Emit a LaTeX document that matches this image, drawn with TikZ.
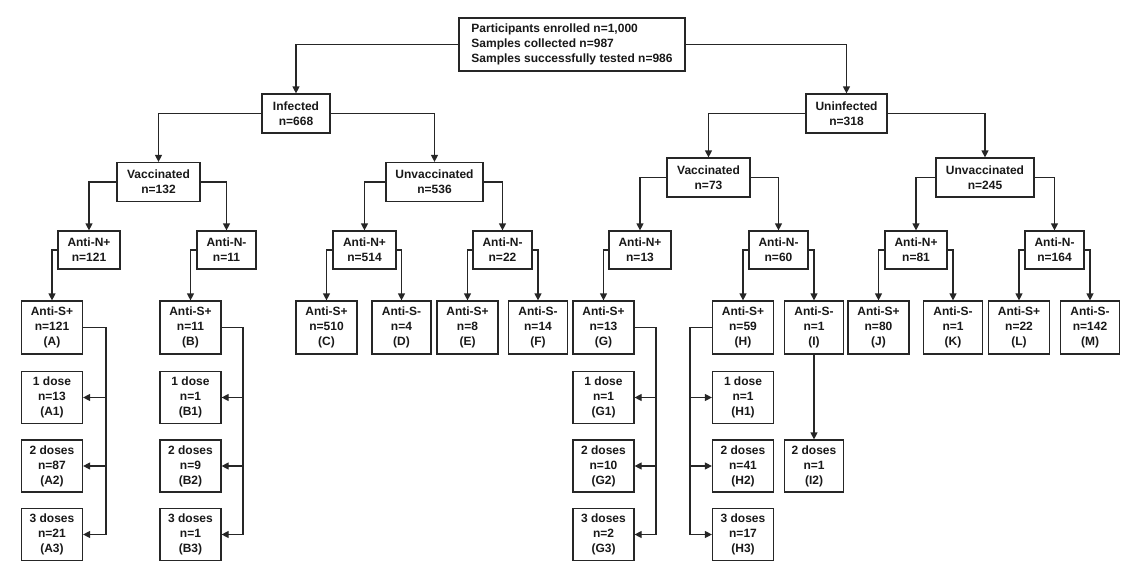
\documentclass[tikz,border=0pt]{standalone}
\usepackage{fontspec}
\setmainfont{Liberation Sans}
\usetikzlibrary{arrows.meta}
\begin{document}
\begin{tikzpicture}[x=1pt,y=-1pt,
  box/.style={draw=black!85, line width=1.2pt, fill=white, text=black!90, font=\bfseries\fontsize{12}{15}\selectfont, align=center, inner sep=0pt},
  two/.style={box, minimum height=39pt},
  nrow/.style={box, minimum height=38pt},
  srow/.style={box, minimum height=53pt},
  drow/.style={box, minimum height=52pt, minimum width=61pt},
  conn/.style={draw=black!85, line width=1.2pt},
  arr/.style={conn, -{Triangle[length=7pt,width=7pt]}}]
\useasboundingbox (0,0) rectangle (1130,576);

% level 0
\node[box, minimum width=226pt, minimum height=53pt, align=left] (root) at (572,44.5)
  {Participants enrolled n=1,000\\Samples collected n=987\\Samples successfully tested n=986};

% level 1
\node[two, minimum width=68pt] (inf) at (296,113.5) {Infected\\n=668};
\node[two, minimum width=81pt] (uninf) at (846.5,113.5) {Uninfected\\n=318};

% level 2
\node[two, minimum width=83pt] (v1) at (158.5,182) {Vaccinated\\n=132};
\node[two, minimum width=97pt] (u1) at (434.5,182) {Unvaccinated\\n=536};
\node[two, minimum width=83pt] (v2) at (708.5,177.5) {Vaccinated\\n=73};
\node[two, minimum width=98pt] (u2) at (985,177.5) {Unvaccinated\\n=245};

% level 3
\node[nrow, minimum width=62pt] (n1) at (89,250) {Anti-N+\\n=121};
\node[nrow, minimum width=59pt] (n2) at (226.5,250) {Anti-N-\\n=11};
\node[nrow, minimum width=63pt] (n3) at (364.5,250) {Anti-N+\\n=514};
\node[nrow, minimum width=59pt] (n4) at (502.5,250) {Anti-N-\\n=22};
\node[nrow, minimum width=62pt] (n5) at (640,250) {Anti-N+\\n=13};
\node[nrow, minimum width=59pt] (n6) at (778.5,250) {Anti-N-\\n=60};
\node[nrow, minimum width=62pt] (n7) at (916,250) {Anti-N+\\n=81};
\node[nrow, minimum width=59pt] (n8) at (1054.5,250) {Anti-N-\\n=164};

% level 4
\node[srow, minimum width=61pt] (A) at (52,327.5) {Anti-S+\\n=121\\(A)};
\node[srow, minimum width=61pt] (B) at (190.5,327.5) {Anti-S+\\n=11\\(B)};
\node[srow, minimum width=61pt] (C) at (326.5,327.5) {Anti-S+\\n=510\\(C)};
\node[srow, minimum width=59pt] (D) at (401.5,327.5) {Anti-S-\\n=4\\(D)};
\node[srow, minimum width=61pt] (E) at (467.5,327.5) {Anti-S+\\n=8\\(E)};
\node[srow, minimum width=59pt] (F) at (538,327.5) {Anti-S-\\n=14\\(F)};
\node[srow, minimum width=61pt] (G) at (603.5,327.5) {Anti-S+\\n=13\\(G)};
\node[srow, minimum width=61pt] (H) at (743,327.5) {Anti-S+\\n=59\\(H)};
\node[srow, minimum width=59pt] (I) at (814,327.5) {Anti-S-\\n=1\\(I)};
\node[srow, minimum width=61pt] (J) at (878.5,327.5) {Anti-S+\\n=80\\(J)};
\node[srow, minimum width=59pt] (K) at (953,327.5) {Anti-S-\\n=1\\(K)};
\node[srow, minimum width=61pt] (L) at (1019,327.5) {Anti-S+\\n=22\\(L)};
\node[srow, minimum width=59pt] (M) at (1090,327.5) {Anti-S-\\n=142\\(M)};

% level 5 (doses)
\node[drow] (A1) at (52,397.5) {1 dose\\n=13\\(A1)};
\node[drow] (A2) at (52,466) {2 doses\\n=87\\(A2)};
\node[drow] (A3) at (52,534.5) {3 doses\\n=21\\(A3)};
\node[drow] (B1) at (190.5,397.5) {1 dose\\n=1\\(B1)};
\node[drow] (B2) at (190.5,466) {2 doses\\n=9\\(B2)};
\node[drow] (B3) at (190.5,534.5) {3 doses\\n=1\\(B3)};
\node[drow] (G1) at (603.5,397.5) {1 dose\\n=1\\(G1)};
\node[drow] (G2) at (603.5,466) {2 doses\\n=10\\(G2)};
\node[drow] (G3) at (603.5,534.5) {3 doses\\n=2\\(G3)};
\node[drow] (H1) at (743,397.5) {1 dose\\n=1\\(H1)};
\node[drow] (H2) at (743,466) {2 doses\\n=41\\(H2)};
\node[drow] (H3) at (743,534.5) {3 doses\\n=17\\(H3)};
\node[drow, minimum width=59pt] (I2) at (814,466) {2 doses\\n=1\\(I2)};

% bus coordinates
\coordinate (bA) at (106,0);
\coordinate (bB) at (243,0);
\coordinate (bG) at (656,0);
\coordinate (bH) at (690,0);

% connectors
\draw[arr] (root.west) -| (inf.north);
\draw[arr] (root.east) -| (uninf.north);
\draw[arr] (inf.west) -| (v1.north);
\draw[arr] (inf.east) -| (u1.north);
\draw[arr] (uninf.west) -| (v2.north);
\draw[arr] (uninf.east) -| (u2.north);
\draw[arr] (v1.west) -| (n1.north);
\draw[arr] (v1.east) -| (n2.north);
\draw[arr] (u1.west) -| (n3.north);
\draw[arr] (u1.east) -| (n4.north);
\draw[arr] (v2.west) -| (n5.north);
\draw[arr] (v2.east) -| (n6.north);
\draw[arr] (u2.west) -| (n7.north);
\draw[arr] (u2.east) -| (n8.north);
\draw[arr] (n1.west) -| (A.north);
\draw[arr] (n2.west) -| (B.north);
\draw[arr] (n3.west) -| (C.north);
\draw[arr] (n3.east) -| (D.north);
\draw[arr] (n4.west) -| (E.north);
\draw[arr] (n4.east) -| (F.north);
\draw[arr] (n5.west) -| (G.north);
\draw[arr] (n6.west) -| (H.north);
\draw[arr] (n6.east) -| (I.north);
\draw[arr] (n7.west) -| (J.north);
\draw[arr] (n7.east) -| (K.north);
\draw[arr] (n8.west) -| (L.north);
\draw[arr] (n8.east) -| (M.north);

\draw[arr] (A.east) -| (bA |- A3.east) -- (A3.east);
\draw[arr] (bA |- A1.east) -- (A1.east);
\draw[arr] (bA |- A2.east) -- (A2.east);
\draw[arr] (B.east) -| (bB |- B3.east) -- (B3.east);
\draw[arr] (bB |- B1.east) -- (B1.east);
\draw[arr] (bB |- B2.east) -- (B2.east);
\draw[arr] (G.east) -| (bG |- G3.east) -- (G3.east);
\draw[arr] (bG |- G1.east) -- (G1.east);
\draw[arr] (bG |- G2.east) -- (G2.east);
\draw[arr] (H.west) -| (bH |- H3.west) -- (H3.west);
\draw[arr] (bH |- H1.west) -- (H1.west);
\draw[arr] (bH |- H2.west) -- (H2.west);
\draw[arr] (I.south) -- (I2.north);
\end{tikzpicture}
\end{document}
